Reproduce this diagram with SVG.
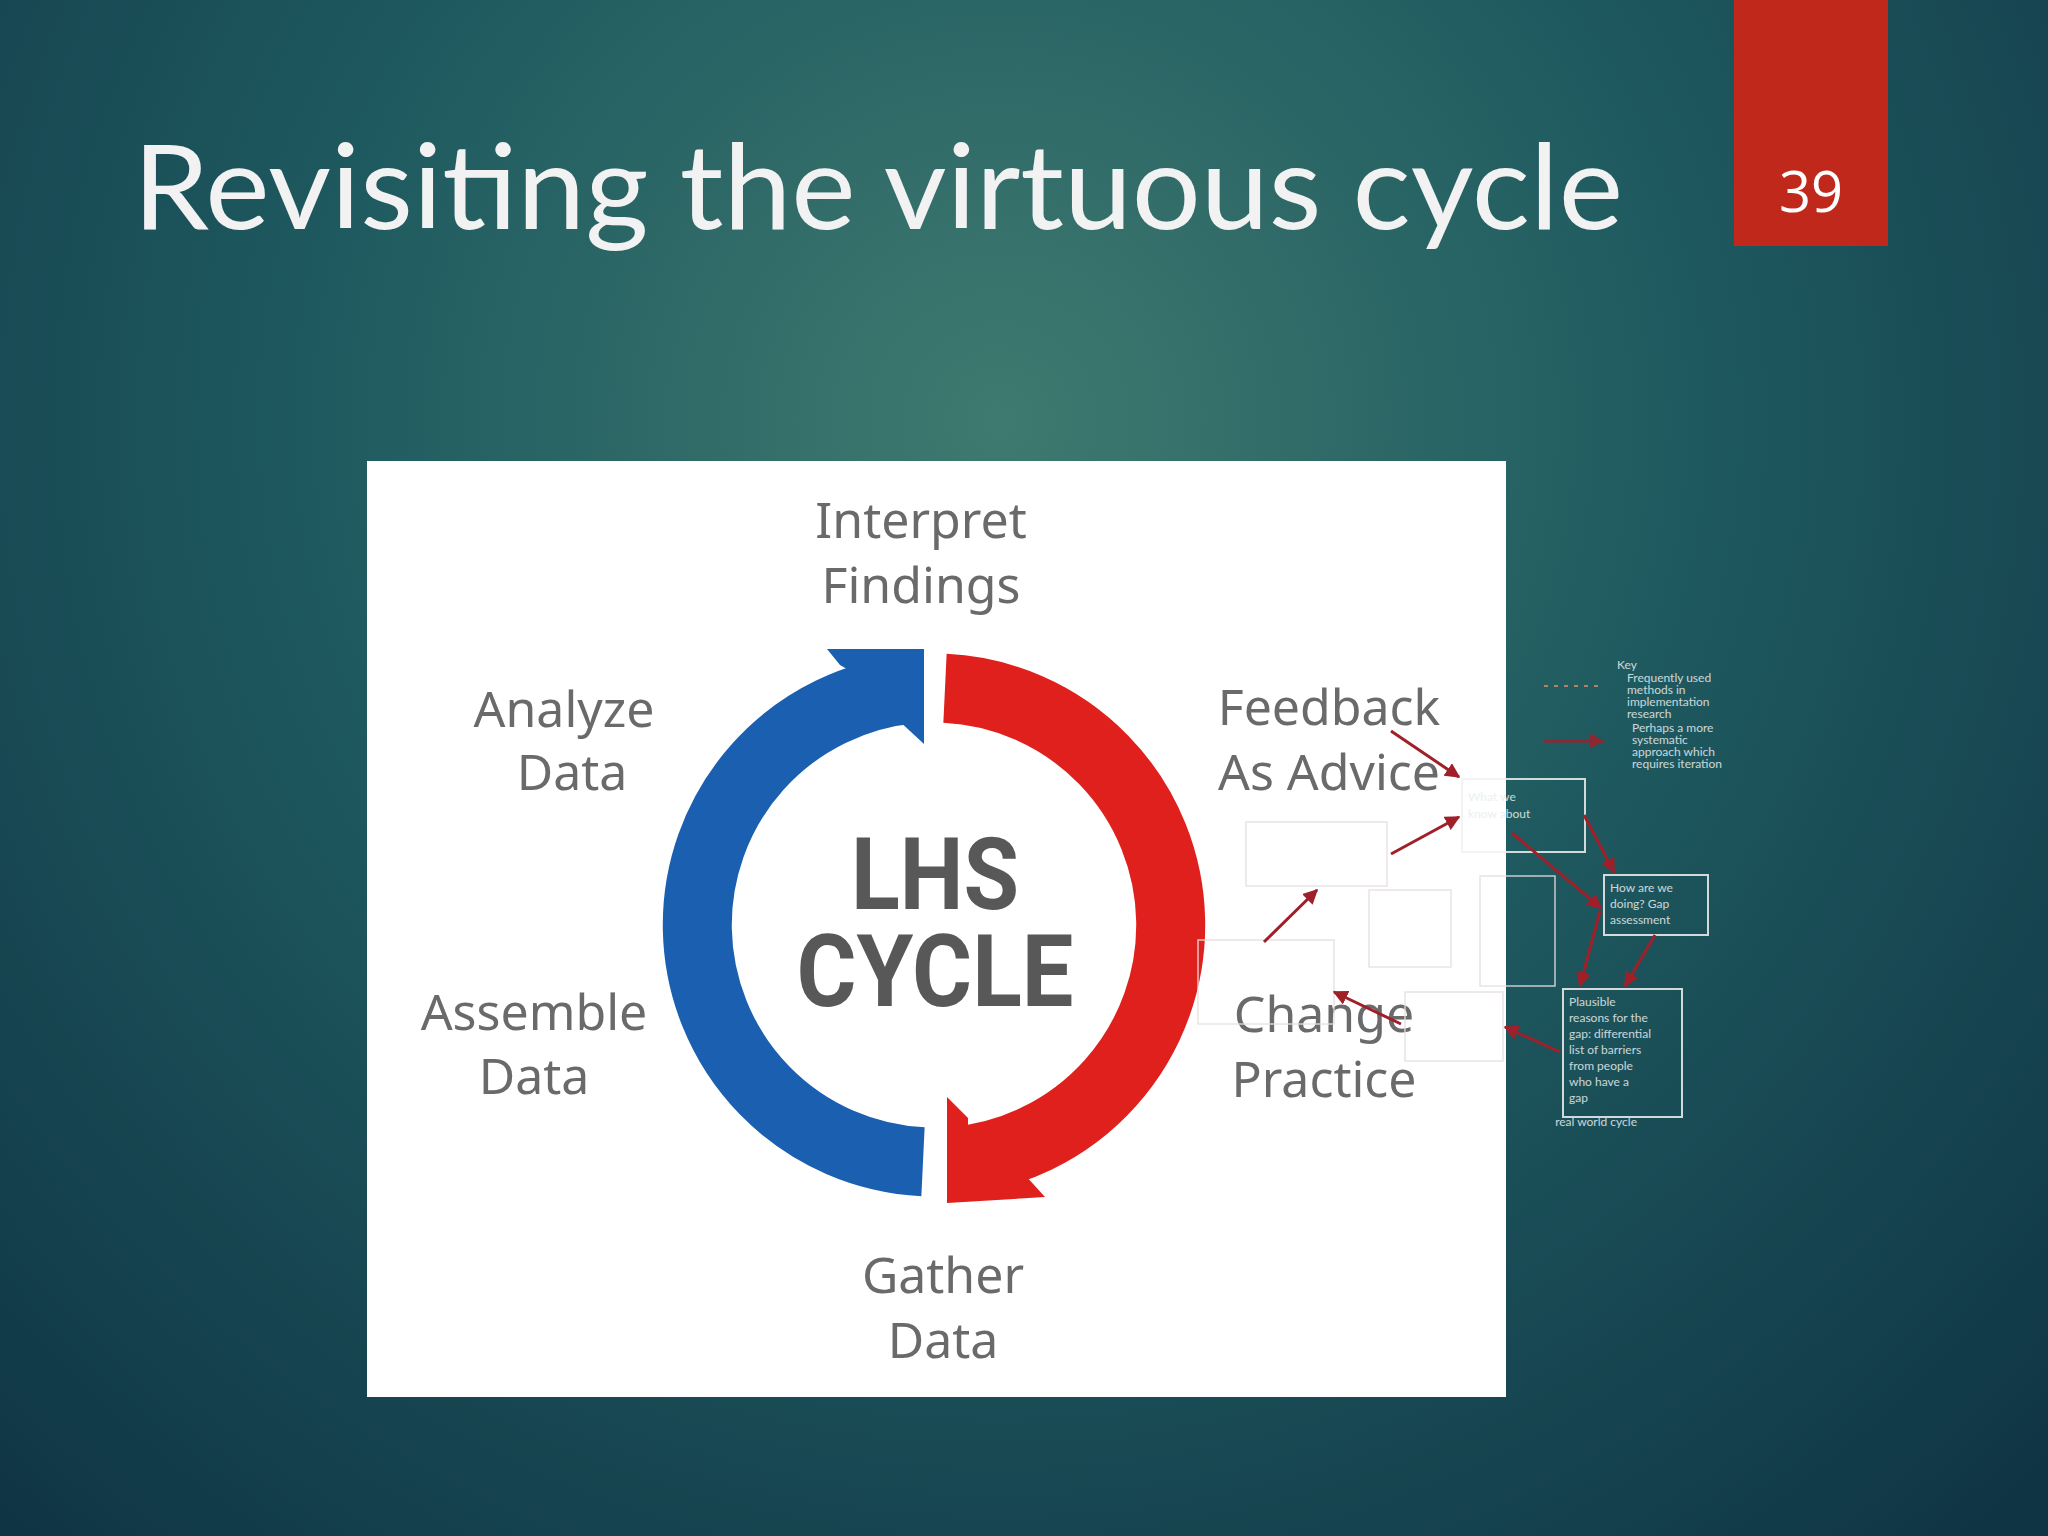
<svg xmlns="http://www.w3.org/2000/svg" width="2048" height="1536" viewBox="0 0 2048 1536">
<defs>
<radialGradient id="bg" cx="1000" cy="420" r="1500" gradientUnits="userSpaceOnUse">
<stop offset="0" stop-color="#3f7a70"/><stop offset="0.45" stop-color="#1f5a60"/><stop offset="1" stop-color="#0f3444"/>
</radialGradient>
<marker id="ah" viewBox="0 0 10 10" refX="9" refY="5" markerWidth="5" markerHeight="5" orient="auto"><path d="M0,0 L10,5 L0,10 z" fill="#a0202a"/></marker>
<style>
.lbl{font-family:"Noto Sans","DejaVu Sans",sans-serif;font-size:50px;fill:#6a6a6a;text-anchor:middle}
.ctr{font-family:"Roboto","Liberation Sans",sans-serif;font-weight:bold;font-size:100px;fill:#585858;text-anchor:middle}
.ov{fill:none;stroke:#f2f2f2;stroke-width:2}
.ovw{fill:none;stroke:#e8e0e0;stroke-width:1.5}
.arr{stroke:#a0202a;stroke-width:3;fill:none;marker-end:url(#ah)}
.sm{font-family:"Lato","Noto Sans",sans-serif;font-size:12px;fill:#e8eeee}
</style>
</defs>
<rect width="2048" height="1536" fill="url(#bg)"/>
<g id="title"><text x="133" y="229" font-family="Lato,'Noto Sans',sans-serif" font-size="118" fill="#f2f2f2" textLength="1490" lengthAdjust="spacingAndGlyphs">Revisiting the virtuous cycle</text></g>
<g id="page-number"><rect x="1734" y="0" width="154" height="246" fill="#c0281c"/><text x="1811" y="212" font-family="'Open Sans','Noto Sans',sans-serif" font-size="56" fill="#fff" text-anchor="middle">39</text></g>
<g id="panel"><rect x="367" y="461" width="1139" height="936" fill="#fff"/></g>
<g id="ring">
<path d="M923,1161.7 A237,237 0 0 1 913.3,688.9" fill="none" stroke="#1a5fb0" stroke-width="69"/>
<polygon points="840,665 827,649 924,649 924,744 897,719 900,700" fill="#1a5fb0"/>
<path d="M945,688.3 A237,237 0 0 1 954.7,1161.1" fill="none" stroke="#e0201c" stroke-width="69"/>
<polygon points="968,1118 947,1097 947,1203 1045,1197 1025,1175 968,1150" fill="#e0201c"/>
</g>
<g id="center"><text class="ctr" x="935" y="909" textLength="168" lengthAdjust="spacingAndGlyphs">LHS</text><text class="ctr" x="935" y="1006" textLength="277" lengthAdjust="spacingAndGlyphs">CYCLE</text></g>
<g id="interpret"><text class="lbl" x="921" y="538">Interpret</text><text class="lbl" x="921" y="603">Findings</text></g>
<g id="analyze"><text class="lbl" x="564" y="727">Analyze</text><text class="lbl" x="572" y="790">Data</text></g>
<g id="feedback"><text class="lbl" x="1329" y="725">Feedback</text><text class="lbl" x="1329" y="790">As Advice</text></g>
<g id="assemble"><text class="lbl" x="534" y="1030">Assemble</text><text class="lbl" x="534" y="1094">Data</text></g>
<g id="change"><text class="lbl" x="1324" y="1032">Change</text><text class="lbl" x="1324" y="1097">Practice</text></g>
<g id="gather"><text class="lbl" x="943" y="1293">Gather</text><text class="lbl" x="943" y="1358">Data</text></g>
<g id="overlay" opacity="0.85">
<rect class="ovw" x="1246" y="822" width="141" height="64"/>
<rect class="ovw" x="1198" y="940" width="136" height="84"/>
<rect class="ovw" x="1369" y="890" width="82" height="77"/>
<rect class="ovw" x="1480" y="876" width="75" height="110"/>
<rect class="ovw" x="1405" y="992" width="98" height="69"/>
<rect class="ov" x="1462" y="779" width="123" height="73"/>
<text class="sm" x="1468" y="801">What we</text><text class="sm" x="1468" y="818">know about</text>
<rect class="ov" x="1604" y="875" width="104" height="60"/>
<text class="sm" x="1610" y="892">How are we</text><text class="sm" x="1610" y="908">doing? Gap</text><text class="sm" x="1610" y="924">assessment</text>
<rect class="ov" x="1563" y="989" width="119" height="128"/>
<text class="sm" x="1569" y="1006">Plausible</text><text class="sm" x="1569" y="1022">reasons for the</text><text class="sm" x="1569" y="1038">gap: differential</text><text class="sm" x="1569" y="1054">list of barriers</text><text class="sm" x="1569" y="1070">from people</text><text class="sm" x="1569" y="1086">who have a</text><text class="sm" x="1569" y="1102">gap</text>
<text class="sm" x="1617" y="669" font-size="10">Key</text>
<text class="sm" x="1627" y="682" font-size="8">Frequently used</text><text class="sm" x="1627" y="694" font-size="8">methods in</text><text class="sm" x="1627" y="706" font-size="8">implementation</text><text class="sm" x="1627" y="718" font-size="8">research</text>
<text class="sm" x="1632" y="732" font-size="8">Perhaps a more</text><text class="sm" x="1632" y="744" font-size="8">systematic</text><text class="sm" x="1632" y="756" font-size="8">approach which</text><text class="sm" x="1632" y="768" font-size="8">requires iteration</text>
<line x1="1544" y1="686" x2="1603" y2="686" stroke="#d08a60" stroke-width="2" stroke-dasharray="4 6"/>
<line class="arr" x1="1544" y1="741" x2="1603" y2="741"/>
<text class="sm" x="1637" y="1126" font-size="18" text-anchor="end">real world cycle</text>
</g>
<g id="connectors">
<line class="arr" x1="1391" y1="731" x2="1459" y2="777"/>
<line class="arr" x1="1391" y1="854" x2="1459" y2="817"/>
<line class="arr" x1="1264" y1="942" x2="1317" y2="890"/>
<line class="arr" x1="1401" y1="1024" x2="1334" y2="992"/>
<line class="arr" x1="1584" y1="815" x2="1614" y2="872"/>
<line class="arr" x1="1655" y1="935" x2="1625" y2="986"/>
<line class="arr" x1="1560" y1="1052" x2="1505" y2="1027"/>
<line class="arr" x1="1512" y1="833" x2="1601" y2="908"/>
<line class="arr" x1="1600" y1="911" x2="1580" y2="986"/>
</g>
</svg>
